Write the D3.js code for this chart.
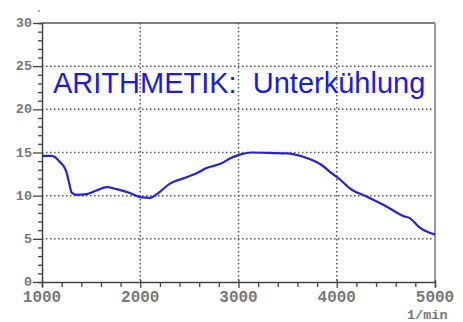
<!DOCTYPE html>
<html><head><meta charset="utf-8">
<script src="https://cdn.jsdelivr.net/npm/d3@7"></script>
<style>body{margin:0;background:#fff}svg{display:block}</style>
</head><body>
<svg id="c" width="463" height="322"></svg>
<script>
const rpm = [1000,1100,1183,1244,1278,1302,1353,1437,1556,1658,1760,1895,2014,2099,2184,2302,2438,2574,2675,2828,2912,3014,3133,3300,3489,3658,3845,3947,4031,4133,4302,4505,4675,4743,4845,5000];
const subcool = [14.6,14.6,13.9,12.9,11.4,10.35,10.1,10.15,10.6,11.0,10.75,10.3,9.8,9.75,10.3,11.4,12.0,12.6,13.2,13.75,14.3,14.75,15.0,14.95,14.9,14.5,13.55,12.6,11.9,10.85,9.9,8.75,7.65,7.4,6.3,5.5];
const xTicks = [1000,2000,3000,4000,5000];
const yTicks = [0,5,10,15,20,25,30];
const title = "ARITHMETIK:  Unterkühlung";
const unit = "1/min";

const svg = d3.select("#c");
const x = d3.scaleLinear().domain([1000,5000]).range([42,435]);
const y = d3.scaleLinear().domain([0,30]).range([282,23]);

// grid
const g = svg.append("g");
g.selectAll(".gx").data(xTicks.slice(1,-1)).join("line")
  .attr("x1",d=>x(d)).attr("x2",d=>x(d)).attr("y1",y(30)).attr("y2",y(0))
  .attr("stroke","#555").attr("stroke-width",1.5).attr("stroke-dasharray","1.5,2.5");
g.selectAll(".gy").data(yTicks.slice(1,-1)).join("line")
  .attr("y1",d=>y(d)).attr("y2",d=>y(d)).attr("x1",x(1000)).attr("x2",x(5000))
  .attr("stroke","#555").attr("stroke-width",1.5).attr("stroke-dasharray","1.5,2.5");

// frame
svg.append("line").attr("x1",x(1000)).attr("x2",x(5000)).attr("y1",y(30)).attr("y2",y(30)).attr("stroke","#555").attr("stroke-width",1.5);
svg.append("line").attr("x1",x(5000)).attr("x2",x(5000)).attr("y1",y(30)).attr("y2",y(0)).attr("stroke","#999").attr("stroke-width",2);

// y axis
const yAxis = d3.axisLeft(y).tickValues(d3.range(0,31,1)).tickSize(4).tickFormat("");
const ya = svg.append("g").attr("transform",`translate(${x(1000)},0)`).call(yAxis);
ya.select(".domain").attr("stroke","#444").attr("stroke-width",1.5);
ya.selectAll(".tick line").attr("stroke","#444").attr("stroke-width",1.3)
  .attr("x2",d=>d%5===0?-9:-4);
svg.selectAll(".ylab").data(yTicks).join("text")
  .attr("x",32).attr("y",d=>y(d)+4).attr("text-anchor","end")
  .attr("font-family","Liberation Mono, monospace").attr("font-size",13.5).attr("font-weight","bold")
  .attr("fill","#777").text(d=>d);

// x axis
const xAxis = d3.axisBottom(x).tickValues(d3.range(1000,5001,200)).tickSize(5).tickFormat("");
const xa = svg.append("g").attr("transform",`translate(0,${y(0)})`).call(xAxis);
xa.select(".domain").attr("stroke","#444").attr("stroke-width",1.5);
xa.selectAll(".tick line").attr("stroke","#444").attr("stroke-width",1.3)
  .attr("y1",d=>d%1000===0?-2:0).attr("y2",d=>d%1000===0?6:5);
svg.selectAll(".xlab").data(xTicks).join("text")
  .attr("x",d=>x(d)).attr("y",302).attr("text-anchor","middle")
  .attr("font-family","Liberation Mono, monospace").attr("font-size",16).attr("font-weight","bold")
  .attr("fill","#777").text(d=>d);
svg.append("text").attr("x",407).attr("y",318.5)
  .attr("font-family","Liberation Mono, monospace").attr("font-size",13.5).attr("font-weight","bold")
  .attr("fill","#777").text(unit);
svg.append("circle").attr("cx",39).attr("cy",11).attr("r",0.9).attr("fill","#888");

// title
svg.append("text").attr("x",53).attr("y",93)
  .attr("font-family","Liberation Sans, Arial, sans-serif").attr("font-size",29)
  .attr("fill","#1a1ae0").attr("style","white-space:pre").text(title);

// line
const line = d3.line().x((d,i)=>x(rpm[i])).y(d=>y(d)).curve(d3.curveMonotoneX);
svg.append("path").datum(subcool).attr("d",line).attr("fill","none")
  .attr("stroke","#2222dd").attr("stroke-width",2.2);
</script>
</body></html>
